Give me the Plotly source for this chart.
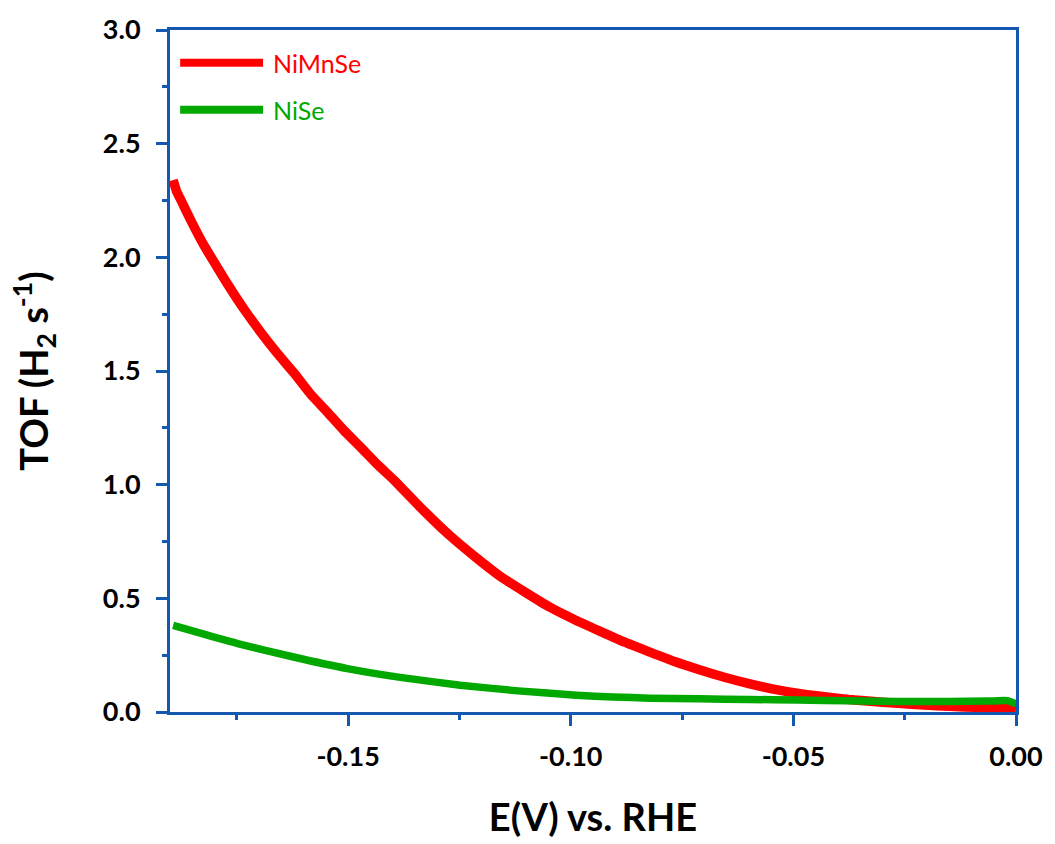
import plotly.graph_objects as go

# ---- data ----
nimnse_x = [-0.1893, -0.1885, -0.1875, -0.1850, -0.1823, -0.1795, -0.1770, -0.1733, -0.1696,
            -0.1660, -0.1621, -0.1585, -0.1547, -0.1510, -0.1472, -0.1435, -0.1397, -0.1340,
            -0.1271, -0.1215, -0.1159, -0.1100, -0.1047, -0.0990, -0.0935, -0.0880, -0.0823,
            -0.0767, -0.0711, -0.0655, -0.0600, -0.0545, -0.0488, -0.0430, -0.0376, -0.0320,
            -0.0264, -0.0205, -0.0150, -0.0080, 0.0]
nimnse_y = [2.34, 2.29, 2.25, 2.15, 2.05, 1.96, 1.88, 1.77, 1.67,
            1.58, 1.49, 1.40, 1.32, 1.24, 1.165, 1.09, 1.02, 0.905,
            0.775, 0.683, 0.598, 0.524, 0.461, 0.405, 0.356, 0.308, 0.264,
            0.222, 0.186, 0.153, 0.125, 0.101, 0.082, 0.067, 0.055, 0.046,
            0.038, 0.031, 0.025, 0.020, 0.016]

nise_x = [-0.1893, -0.1820, -0.1748, -0.1625, -0.1502, -0.1375, -0.1248, -0.1118, -0.0987,
          -0.0905, -0.0823, -0.0711, -0.0600, -0.0488, -0.0376, -0.0264, -0.0150, -0.0060,
          -0.0020, 0.0]
nise_y = [0.381, 0.340, 0.301, 0.243, 0.191, 0.150, 0.118, 0.093, 0.074,
          0.066, 0.061, 0.058, 0.055, 0.053, 0.049, 0.046, 0.046, 0.048,
          0.050, 0.036]

series_names = ["NiMnSe", "NiSe"]
series_colors = ["#ff0000", "#00a800"]

x_ticks = [-0.15, -0.10, -0.05, 0.00]
x_ticklabels = ["-0.15", "-0.10", "-0.05", "0.00"]
y_ticks = [0.0, 0.5, 1.0, 1.5, 2.0, 2.5, 3.0]
y_ticklabels = ["0.0", "0.5", "1.0", "1.5", "2.0", "2.5", "3.0"]

axis_color = "#1558b0"
font_family = "Lato"

fig = go.Figure()
fig.add_trace(go.Scatter(x=nimnse_x, y=nimnse_y, mode="lines", name=series_names[0],
                         line=dict(color=series_colors[0], width=9.5, shape="spline", smoothing=0.5),
                         showlegend=False))
fig.add_trace(go.Scatter(x=nise_x, y=nise_y, mode="lines", name=series_names[1],
                         line=dict(color=series_colors[1], width=7.5, shape="spline", smoothing=0.5),
                         showlegend=False))

# custom legend (long line samples with colored labels)
legend_rows = [0.952, 0.883]
for name, color, yy in zip(series_names, series_colors, legend_rows):
    fig.add_shape(type="line", xref="paper", yref="paper", x0=0.012, x1=0.110, y0=yy, y1=yy,
                  line=dict(color=color, width=8), layer="above")
    fig.add_annotation(xref="paper", yref="paper", x=0.119, y=yy, text=name, showarrow=False,
                       xanchor="left", yanchor="middle",
                       font=dict(family=font_family, size=25, color=color))

axis_common = dict(
    showline=True, linecolor=axis_color, linewidth=3, mirror=True,
    ticks="outside", tickcolor=axis_color, tickwidth=3, ticklen=11,
    showgrid=False, zeroline=False,
    tickfont=dict(family=font_family, size=27, color="#000000", weight="bold"),
)

fig.update_xaxes(
    range=[-0.19, 0.0], tickvals=x_ticks, ticktext=x_ticklabels,
    minor=dict(ticks="outside", ticklen=5, tickwidth=3, tickcolor=axis_color, dtick=0.025, tick0=0),
    ticklabelstandoff=8,
    title=dict(text="<b>E(V) vs. RHE</b>", font=dict(family=font_family, size=38, color="#000000"),
               standoff=33),
    **axis_common,
)
fig.update_yaxes(
    range=[0, 3.0], tickvals=y_ticks, ticktext=y_ticklabels,
    minor=dict(ticks="outside", ticklen=5, tickwidth=3, tickcolor=axis_color, dtick=0.25, tick0=0),
    ticklabelstandoff=10,
    title=dict(text="<b>TOF (H<sub>2</sub> s<sup>-1</sup>)</b>",
               font=dict(family=font_family, size=38, color="#000000"), standoff=43),
    **axis_common,
)

fig.update_layout(
    width=1055, height=844,
    margin=dict(l=170, r=35, t=27, b=132),
    paper_bgcolor="#ffffff", plot_bgcolor="#ffffff",
    font=dict(family=font_family, color="#000000"),
)

fig.write_html("out.html")
